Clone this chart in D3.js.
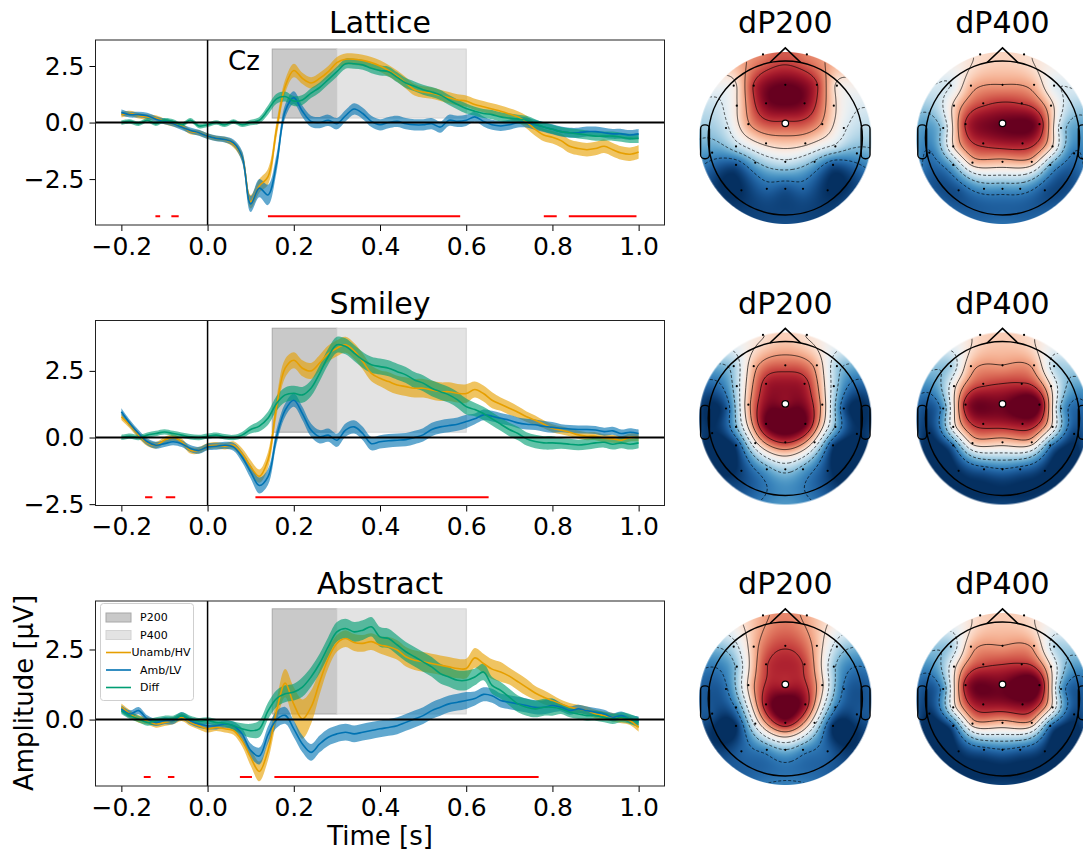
<!DOCTYPE html>
<html>
<head>
<meta charset="utf-8">
<script src="https://cdn.jsdelivr.net/npm/d3@7"></script>
<style>
	body { margin: 0; background: #fff; }
	svg { display: block; }
</style>
</head>
<body>
<div id="chart"></div>
<script>
// ---- ERP data (Cz), sampled every 20 ms ----
const times = [-0.2, -0.18, -0.16, -0.14, -0.12, -0.1, -0.08, -0.06, -0.04, -0.02, 0.0,
	0.02, 0.04, 0.06, 0.08, 0.1, 0.12, 0.14, 0.16, 0.18, 0.2,
	0.22, 0.24, 0.26, 0.28, 0.3, 0.32, 0.34, 0.36, 0.38, 0.4,
	0.42, 0.44, 0.46, 0.48, 0.5, 0.52, 0.54, 0.56, 0.58, 0.6,
	0.62, 0.64, 0.66, 0.68, 0.7, 0.72, 0.74, 0.76, 0.78, 0.8,
	0.82, 0.84, 0.86, 0.88, 0.9, 0.92, 0.94, 0.96, 0.98, 1.0];

const conditions = ["Unamb/HV", "Amb/LV", "Diff"];
const stimuli = ["Lattice", "Smiley", "Abstract"];

const latticeUnamb = [0.35, 0.4, 0.3, 0.25, 0.2, 0.05, -0.05, -0.15, -0.4, -0.45, -0.6,
	-0.7, -0.75, -0.95, -1.5, -3.5, -2.8, -2.4, -0.3, 1.6, 2.3,
	1.95, 1.75, 1.95, 2.25, 2.65, 2.8, 2.8, 2.75, 2.65, 2.5,
	2.3, 2.05, 1.75, 1.45, 1.35, 1.3, 1.2, 1.1, 1.0, 0.95,
	0.8, 0.7, 0.6, 0.5, 0.38, 0.25, 0.02, -0.3, -0.55, -0.65,
	-0.8, -1.05, -1.15, -1.2, -1.15, -1.05, -1.2, -1.35, -1.4, -1.3];
const latticeAmb = [0.45, 0.35, 0.35, 0.3, 0.15, 0.05, -0.05, -0.2, -0.35, -0.45, -0.6,
	-0.7, -0.75, -0.9, -1.5, -3.6, -2.9, -3.2, -1.8, 0.5, 1.1,
	0.5, 0.05, 0.0, 0.1, -0.05, 0.3, 0.6, 0.4, 0.05, -0.1,
	0.0, 0.05, -0.05, -0.1, -0.1, -0.05, -0.2, 0.1, 0.05, 0.1,
	0.25, 0.05, -0.1, -0.15, -0.1, 0.0, 0.0, -0.1, -0.2, -0.3,
	-0.4, -0.45, -0.45, -0.4, -0.4, -0.45, -0.5, -0.5, -0.55, -0.5];
const latticeDiff = [0.0, 0.05, -0.05, 0.1, -0.05, 0.1, 0.05, -0.1, 0.1, -0.15, -0.1,
	0.0, -0.1, 0.05, -0.1, 0.0, 0.1, 0.55, 1.05, 1.15, 0.95,
	1.0, 1.3, 1.55, 1.9, 2.25, 2.6, 2.6, 2.55, 2.4, 2.3,
	2.25, 2.0, 1.75, 1.6, 1.45, 1.35, 1.22, 1.0, 0.8, 0.62,
	0.5, 0.4, 0.35, 0.25, 0.2, 0.15, 0.1, -0.05, -0.2, -0.3,
	-0.4, -0.45, -0.5, -0.55, -0.6, -0.6, -0.6, -0.65, -0.7, -0.7];

const smileyUnamb = [0.78, 0.46, 0.09, -0.2, -0.29, -0.1, 0.0, -0.16, -0.48, -0.48, -0.33,
	-0.29, -0.33, -0.29, -0.6, -1.1, -1.45, -0.85, 1.16, 2.6, 2.9,
	2.6, 2.5, 2.8, 3.15, 3.35, 3.48, 3.25, 2.85, 2.41, 2.22,
	2.1, 1.97, 1.91, 1.85, 1.85, 1.78, 1.72, 1.72, 1.66, 1.65,
	1.8, 1.65, 1.4, 1.25, 1.1, 0.95, 0.78, 0.65, 0.5, 0.35,
	0.27, 0.2, 0.1, 0.05, 0.05, -0.03, -0.05, -0.1, 0.0, 0.0];
const smileyAmb = [0.97, 0.53, 0.15, -0.16, -0.29, -0.23, -0.16, -0.23, -0.41, -0.48, -0.35,
	-0.33, -0.29, -0.35, -0.73, -1.29, -1.8, -1.48, 0.03, 1.03, 1.4,
	0.9, 0.28, 0.03, 0.09, -0.1, 0.28, 0.4, 0.15, -0.23, -0.16,
	-0.12, -0.1, -0.08, 0.0, 0.1, 0.3, 0.4, 0.45, 0.5, 0.6,
	0.7, 0.85, 0.8, 0.72, 0.65, 0.55, 0.5, 0.48, 0.42, 0.38,
	0.35, 0.32, 0.3, 0.3, 0.28, 0.22, 0.25, 0.15, 0.2, 0.15];
const smileyDiff = [0.0, 0.05, 0.0, 0.09, 0.15, 0.21, 0.15, 0.09, 0.03, 0.0, 0.05,
	0.09, 0.03, 0.0, 0.09, 0.3, 0.43, 0.72, 1.28, 1.6, 1.66,
	1.6, 1.85, 2.41, 3.04, 3.48, 3.42, 3.17, 2.91, 2.73, 2.66,
	2.6, 2.47, 2.35, 2.16, 2.04, 1.85, 1.72, 1.6, 1.41, 1.16,
	1.05, 0.9, 0.7, 0.5, 0.3, 0.15, -0.05, -0.15, -0.2, -0.2,
	-0.22, -0.25, -0.28, -0.25, -0.2, -0.18, -0.25, -0.2, -0.25, -0.2];

const abstractUnamb = [0.44, 0.2, 0.02, -0.04, -0.16, -0.1, -0.04, 0.08, -0.1, -0.22, -0.33,
	-0.28, -0.33, -0.39, -0.75, -1.35, -1.85, -1.11, 0.3, 1.3, 0.55,
	0.02, 0.44, 1.34, 2.18, 2.72, 2.89, 2.75, 2.72, 2.78, 2.66,
	2.6, 2.48, 2.24, 2.12, 2.06, 2.0, 1.94, 1.88, 1.82, 1.82,
	2.2, 2.0, 1.8, 1.7, 1.55, 1.35, 1.15, 0.95, 0.8, 0.68,
	0.56, 0.44, 0.38, 0.32, 0.2, 0.14, 0.08, 0.02, -0.04, -0.28];
const abstractAmb = [0.38, 0.2, 0.32, 0.02, -0.1, -0.04, -0.04, 0.14, -0.04, -0.16, -0.22,
	-0.22, -0.16, -0.22, -0.51, -1.1, -1.3, -0.55, 0.0, 0.15, -0.33,
	-0.87, -1.17, -0.87, -0.63, -0.51, -0.45, -0.51, -0.45, -0.39, -0.33,
	-0.28, -0.22, -0.1, 0.02, 0.14, 0.32, 0.44, 0.56, 0.62, 0.68,
	0.75, 0.9, 0.85, 0.68, 0.62, 0.56, 0.5, 0.44, 0.44, 0.5,
	0.44, 0.32, 0.38, 0.32, 0.26, 0.2, 0.08, 0.14, 0.02, -0.04];
const abstractDiff = [0.32, 0.14, 0.02, -0.1, -0.04, 0.02, 0.02, 0.14, 0.02, -0.06, -0.04,
	-0.1, -0.13, -0.22, -0.33, -0.4, -0.33, 0.3, 0.75, 0.92, 0.98,
	1.16, 1.52, 2.0, 2.6, 3.13, 3.25, 3.13, 3.19, 3.31, 2.95,
	2.89, 2.66, 2.42, 2.24, 2.06, 1.88, 1.64, 1.52, 1.4, 1.4,
	1.52, 1.7, 1.22, 1.04, 0.8, 0.56, 0.44, 0.38, 0.44, 0.44,
	0.38, 0.26, 0.2, 0.14, 0.14, 0.08, 0.02, 0.08, 0.02, -0.1];

// half widths of the shaded bands
const latticeUnambSe = [0.12, 0.12, 0.12, 0.12, 0.12, 0.12, 0.12, 0.12, 0.12, 0.12, 0.12,
	0.12, 0.12, 0.15, 0.2, 0.3, 0.3, 0.35, 0.35, 0.3, 0.3,
	0.25, 0.25, 0.25, 0.25, 0.25, 0.25, 0.25, 0.25, 0.25, 0.25,
	0.25, 0.25, 0.25, 0.25, 0.25, 0.25, 0.25, 0.25, 0.25, 0.25,
	0.25, 0.25, 0.25, 0.25, 0.25, 0.25, 0.28, 0.28, 0.28, 0.28,
	0.3, 0.3, 0.3, 0.3, 0.3, 0.3, 0.3, 0.3, 0.3, 0.3];
const latticeAmbSe = [0.13, 0.13, 0.13, 0.13, 0.13, 0.13, 0.13, 0.13, 0.13, 0.13, 0.13,
	0.13, 0.13, 0.15, 0.25, 0.35, 0.4, 0.45, 0.4, 0.3, 0.28,
	0.25, 0.25, 0.25, 0.25, 0.25, 0.25, 0.25, 0.25, 0.25, 0.25,
	0.25, 0.25, 0.25, 0.25, 0.25, 0.25, 0.25, 0.25, 0.25, 0.25,
	0.22, 0.22, 0.22, 0.22, 0.22, 0.22, 0.22, 0.22, 0.22, 0.22,
	0.22, 0.22, 0.22, 0.22, 0.22, 0.22, 0.22, 0.22, 0.22, 0.22];
const latticeDiffSe = [0.1, 0.1, 0.1, 0.1, 0.1, 0.1, 0.1, 0.1, 0.1, 0.1, 0.1,
	0.1, 0.1, 0.1, 0.1, 0.12, 0.15, 0.2, 0.22, 0.22, 0.22,
	0.22, 0.22, 0.22, 0.22, 0.22, 0.22, 0.22, 0.22, 0.22, 0.22,
	0.22, 0.22, 0.22, 0.22, 0.22, 0.22, 0.22, 0.22, 0.22, 0.22,
	0.2, 0.2, 0.2, 0.2, 0.2, 0.2, 0.2, 0.2, 0.2, 0.2,
	0.2, 0.2, 0.2, 0.2, 0.2, 0.2, 0.2, 0.2, 0.2, 0.2];
const smileyUnambSe = [0.12, 0.12, 0.12, 0.12, 0.12, 0.12, 0.12, 0.12, 0.12, 0.12, 0.12,
	0.12, 0.12, 0.15, 0.2, 0.25, 0.25, 0.3, 0.35, 0.35, 0.3,
	0.3, 0.3, 0.3, 0.3, 0.3, 0.3, 0.3, 0.3, 0.3, 0.3,
	0.35, 0.35, 0.35, 0.35, 0.35, 0.35, 0.35, 0.35, 0.35, 0.35,
	0.3, 0.3, 0.3, 0.25, 0.25, 0.22, 0.2, 0.18, 0.15, 0.15,
	0.15, 0.15, 0.15, 0.15, 0.15, 0.15, 0.15, 0.15, 0.15, 0.15];
const smileyAmbSe = [0.13, 0.13, 0.13, 0.13, 0.13, 0.13, 0.13, 0.13, 0.13, 0.13, 0.13,
	0.13, 0.13, 0.15, 0.2, 0.25, 0.3, 0.3, 0.28, 0.25, 0.25,
	0.25, 0.25, 0.25, 0.25, 0.25, 0.25, 0.25, 0.25, 0.25, 0.25,
	0.25, 0.25, 0.25, 0.25, 0.25, 0.25, 0.25, 0.25, 0.25, 0.25,
	0.2, 0.2, 0.2, 0.2, 0.2, 0.2, 0.2, 0.2, 0.2, 0.2,
	0.15, 0.15, 0.15, 0.15, 0.15, 0.15, 0.15, 0.15, 0.15, 0.15];
const smileyDiffSe = [0.1, 0.1, 0.1, 0.1, 0.1, 0.1, 0.1, 0.1, 0.1, 0.1, 0.1,
	0.1, 0.1, 0.1, 0.12, 0.15, 0.2, 0.25, 0.28, 0.28, 0.28,
	0.3, 0.3, 0.3, 0.3, 0.3, 0.3, 0.3, 0.3, 0.3, 0.3,
	0.3, 0.3, 0.3, 0.3, 0.3, 0.3, 0.3, 0.3, 0.3, 0.3,
	0.25, 0.25, 0.25, 0.25, 0.25, 0.25, 0.25, 0.25, 0.25, 0.25,
	0.2, 0.2, 0.2, 0.2, 0.2, 0.2, 0.2, 0.2, 0.2, 0.2];
const abstractUnambSe = [0.13, 0.13, 0.13, 0.13, 0.13, 0.13, 0.13, 0.13, 0.13, 0.13, 0.13,
	0.13, 0.13, 0.15, 0.2, 0.3, 0.35, 0.35, 0.4, 0.5, 0.6,
	0.7, 0.6, 0.45, 0.35, 0.3, 0.3, 0.3, 0.3, 0.3, 0.3,
	0.35, 0.35, 0.35, 0.35, 0.35, 0.35, 0.35, 0.35, 0.35, 0.35,
	0.35, 0.35, 0.35, 0.35, 0.3, 0.3, 0.3, 0.25, 0.25, 0.2,
	0.15, 0.15, 0.15, 0.15, 0.15, 0.15, 0.15, 0.15, 0.15, 0.15];
const abstractAmbSe = [0.13, 0.13, 0.13, 0.13, 0.13, 0.13, 0.13, 0.13, 0.13, 0.13, 0.13,
	0.13, 0.13, 0.15, 0.2, 0.25, 0.3, 0.3, 0.3, 0.3, 0.3,
	0.3, 0.3, 0.3, 0.3, 0.3, 0.3, 0.3, 0.3, 0.3, 0.3,
	0.3, 0.3, 0.3, 0.3, 0.3, 0.3, 0.3, 0.3, 0.3, 0.3,
	0.25, 0.25, 0.25, 0.25, 0.25, 0.25, 0.25, 0.25, 0.25, 0.25,
	0.15, 0.15, 0.15, 0.15, 0.15, 0.15, 0.15, 0.15, 0.15, 0.15];
const abstractDiffSe = [0.12, 0.12, 0.12, 0.12, 0.12, 0.12, 0.12, 0.12, 0.12, 0.12, 0.12,
	0.12, 0.12, 0.15, 0.2, 0.25, 0.3, 0.3, 0.3, 0.3, 0.3,
	0.35, 0.35, 0.35, 0.35, 0.35, 0.35, 0.35, 0.35, 0.35, 0.35,
	0.35, 0.35, 0.35, 0.35, 0.35, 0.35, 0.35, 0.35, 0.35, 0.35,
	0.3, 0.3, 0.3, 0.3, 0.3, 0.3, 0.3, 0.3, 0.3, 0.3,
	0.18, 0.18, 0.18, 0.18, 0.18, 0.18, 0.18, 0.18, 0.18, 0.18];

// axis limits, analysis windows, significant clusters
const yLimits = [[-4.53, 3.65], [-2.55, 4.39], [-2.37, 4.23]];
const xTicks = [-0.2, 0.0, 0.2, 0.4, 0.6, 0.8, 1.0];
const yTicks = [-2.5, 0.0, 2.5];
const erpWindows = [{ name: "P200", start: 0.15, end: 0.3 }, { name: "P400", start: 0.3, end: 0.6 }];
const windowBottom = 0.2;
const windowTop = [3.25, 4.1, 3.95];
const sigLevel = [-4.14, -2.24, -2.05];
const latticeSig = [[-0.121, -0.11], [-0.084, -0.067], [0.14, 0.586], [0.78, 0.81], [0.838, 0.995]];
const smileySig = [[-0.145, -0.128], [-0.097, -0.075], [0.111, 0.652]];
const abstractSig = [[-0.148, -0.132], [-0.092, -0.077], [0.075, 0.103], [0.155, 0.768]];

// ---- topography data: montage (head radius = 1, y to the nose) and dP values in µV ----
const channels = ["Fp1", "Fp2", "F7", "F3", "Fz", "F4", "F8", "FC5", "FC1", "FC2", "FC6",
	"T7", "C3", "Cz", "C4", "T8", "TP9", "CP5", "CP1", "CP2", "CP6", "TP10",
	"P7", "P3", "Pz", "P4", "P8", "PO9", "O1", "Oz", "O2", "PO10"];
const channelX = [-0.29, 0.28, -0.67, -0.41, 0.0, 0.41, 0.67, -0.63, -0.25, 0.25, 0.63,
	-0.77, -0.48, 0.0, 0.48, 0.76, -0.95, -0.64, -0.25, 0.26, 0.65, 0.93,
	-0.64, -0.39, 0.0, 0.38, 0.62, -0.57, -0.24, 0.0, 0.23, 0.55];
const channelY = [1.085, 1.085, 0.68, 0.68, 0.69, 0.69, 0.68, 0.42, 0.45, 0.45, 0.42,
	0.13, 0.18, 0.19, 0.18, 0.13, -0.19, -0.11, -0.07, -0.07, -0.11, -0.2,
	-0.35, -0.32, -0.31, -0.31, -0.35, -0.68, -0.66, -0.66, -0.66, -0.68];

const topoTitles = ["dP200", "dP400"];
const latticeP200 = [1.5, 1.5, 0.2, 2.2, 3.0, 2.2, 0.3, 0.4, 2.8, 2.8, 0.6,
	-0.6, 1.2, 2.0, 1.2, -0.3, -1.8, -0.8, 0.6, 0.6, -0.6, -1.6,
	-2.6, -1.4, -0.6, -1.4, -2.6, -3.0, -2.4, -2.6, -2.4, -3.0];
const latticeP400 = [0.5, 0.5, -0.4, 1.0, 1.3, 1.0, -0.3, 0.6, 2.0, 2.1, 0.7,
	-1.0, 2.2, 3.0, 2.6, -0.8, -2.2, 0.4, 2.3, 2.5, 0.4, -2.2,
	-1.4, 0.8, 1.0, 0.9, -1.4, -2.6, -1.8, -1.8, -1.8, -2.6];
const smileyP200 = [0.4, 0.4, -1.0, 1.0, 1.8, 1.0, -1.0, -0.8, 2.4, 2.4, -0.8,
	-2.6, 1.0, 2.7, 1.0, -2.6, -3.0, -1.4, 3.0, 3.0, -1.4, -3.0,
	-2.8, 0.2, 2.2, 0.2, -2.8, -2.8, -1.6, -1.0, -1.6, -2.8];
const smileyP400 = [0.6, 0.6, -1.0, 1.0, 1.3, 1.1, -0.8, 0.2, 2.0, 2.2, 0.4,
	-1.8, 2.4, 2.9, 3.0, -1.4, -3.0, 0.0, 2.4, 2.6, 0.2, -2.8,
	-2.2, 0.6, 0.8, 0.8, -2.0, -3.0, -2.4, -2.2, -2.4, -3.0];
const abstractP200 = [1.2, 1.2, -0.8, 1.0, 2.2, 1.0, -0.8, -1.2, 2.2, 2.2, -1.2,
	-2.4, 0.6, 2.5, 0.6, -2.4, -2.8, -2.2, 2.7, 2.7, -2.2, -2.8,
	-3.2, -0.2, 2.8, -0.2, -3.2, -2.6, -2.0, -1.4, -2.0, -2.6];
const abstractP400 = [0.6, 0.6, -1.0, 1.0, 1.3, 1.1, -0.8, 0.2, 2.0, 2.2, 0.4,
	-1.8, 2.4, 2.9, 3.0, -1.6, -3.0, 0.0, 2.6, 2.8, 0.2, -2.8,
	-2.4, 0.8, 1.0, 1.0, -2.2, -3.0, -2.4, -2.2, -2.4, -3.0];

// ---- layout ----
const lineColors = ["#E69F00", "#0072B2", "#009E73"];
const rowStep = 280.5;
const plotTop = 40;
const plotHeight = 185;

const panels = [
	{ series: [latticeUnamb, latticeAmb, latticeDiff], errors: [latticeUnambSe, latticeAmbSe, latticeDiffSe], sig: latticeSig, topo: [latticeP200, latticeP400] },
	{ series: [smileyUnamb, smileyAmb, smileyDiff], errors: [smileyUnambSe, smileyAmbSe, smileyDiffSe], sig: smileySig, topo: [smileyP200, smileyP400] },
	{ series: [abstractUnamb, abstractAmb, abstractDiff], errors: [abstractUnambSe, abstractAmbSe, abstractDiffSe], sig: abstractSig, topo: [abstractP200, abstractP400] }
];

const svg = d3.select("#chart")
	.append("svg")
	.attr("width", 1083)
	.attr("height", 852)
	.style("font-family", "'DejaVu Sans', sans-serif");

const defs = svg.append("defs");

const x = d3.scaleLinear()
	.domain([-0.26, 1.06])
	.range([95.5, 664.5]);

const fmt = d3.format(".1f");

panels.forEach((panel, k) => {
	const top = plotTop + k * rowStep;
	const bottom = top + plotHeight;
	const y = d3.scaleLinear().domain(yLimits[k]).range([bottom, top]);
	const g = svg.append("g");

	defs.append("clipPath")
		.attr("id", "plotclip" + k)
		.append("rect")
		.attr("x", x.range()[0])
		.attr("y", top)
		.attr("width", x.range()[1] - x.range()[0])
		.attr("height", plotHeight);

	const plot = g.append("g").attr("clip-path", `url(#plotclip${k})`);

	plot.selectAll("rect.window")
		.data(erpWindows)
		.enter()
		.append("rect")
		.attr("class", "window")
		.attr("x", (d) => x(d.start))
		.attr("width", (d) => x(d.end) - x(d.start))
		.attr("y", y(windowTop[k]))
		.attr("height", y(windowBottom) - y(windowTop[k]))
		.attr("fill", (d, i) => i ? "#e3e3e3" : "#c9c9c9")
		.attr("stroke", (d, i) => i ? "#d3d3d3" : "#a8a8a8")
		.attr("stroke-width", 1);

	const rows = panel.series.map((s, c) =>
		times.map((t, i) => ({ t: t, v: s[i], e: panel.errors[c][i] })));

	const band = d3.area()
		.x((d) => x(d.t))
		.y0((d) => y(d.v - d.e))
		.y1((d) => y(d.v + d.e))
		.curve(d3.curveCatmullRom);

	const line = d3.line()
		.x((d) => x(d.t))
		.y((d) => y(d.v))
		.curve(d3.curveCatmullRom);

	plot.selectAll("path.band")
		.data(rows)
		.enter()
		.append("path")
		.attr("class", "band")
		.attr("d", band)
		.attr("fill", (d, i) => lineColors[i])
		.attr("fill-opacity", 0.62);

	plot.selectAll("path.mean")
		.data(rows)
		.enter()
		.append("path")
		.attr("class", "mean")
		.attr("d", line)
		.attr("fill", "none")
		.attr("stroke", (d, i) => lineColors[i])
		.attr("stroke-width", 1.6);

	plot.append("line")
		.attr("x1", x.range()[0])
		.attr("x2", x.range()[1])
		.attr("y1", y(0))
		.attr("y2", y(0))
		.attr("stroke", "#000")
		.attr("stroke-width", 2);

	plot.append("line")
		.attr("x1", x(0))
		.attr("x2", x(0))
		.attr("y1", top)
		.attr("y2", bottom)
		.attr("stroke", "#000")
		.attr("stroke-width", 1.5);

	plot.selectAll("line.sig")
		.data(panel.sig)
		.enter()
		.append("line")
		.attr("class", "sig")
		.attr("x1", (d) => x(d[0]))
		.attr("x2", (d) => x(d[1]))
		.attr("y1", y(sigLevel[k]))
		.attr("y2", y(sigLevel[k]))
		.attr("stroke", "#ff0000")
		.attr("stroke-width", 2);

	const xAxis = g.append("g")
		.attr("transform", `translate(0,${bottom})`)
		.call(d3.axisBottom(x).tickValues(xTicks).tickFormat(fmt).tickSize(6).tickPadding(6));
	const yAxis = g.append("g")
		.attr("transform", `translate(${x.range()[0]},0)`)
		.call(d3.axisLeft(y)
			.tickValues(yTicks.filter((v) => v >= yLimits[k][0] && v <= yLimits[k][1]))
			.tickFormat(fmt).tickSize(6).tickPadding(5));
	[xAxis, yAxis].forEach((a) => {
		a.attr("font-size", null).attr("font-family", null);
		a.select(".domain").remove();
		a.selectAll("line").attr("stroke", "#000");
		a.selectAll("text").attr("font-size", 25).attr("fill", "#000");
	});

	g.append("rect")
		.attr("x", x.range()[0])
		.attr("y", top)
		.attr("width", x.range()[1] - x.range()[0])
		.attr("height", plotHeight)
		.attr("fill", "none")
		.attr("stroke", "#222")
		.attr("stroke-width", 1);

	svg.append("text")
		.attr("x", (x.range()[0] + x.range()[1]) / 2)
		.attr("y", 33 + k * rowStep)
		.attr("text-anchor", "middle")
		.attr("font-size", 30)
		.text(stimuli[k]);
});

// channel label on the first panel
svg.append("text")
	.attr("x", 228)
	.attr("y", 70)
	.attr("font-size", 26)
	.text("Cz");

// legend in the last panel
const legendItems = [
	{ label: "P200", kind: "patch", fill: "#c9c9c9", stroke: "#a8a8a8", dx: 140 },
	{ label: "P400", kind: "patch", fill: "#e3e3e3", stroke: "#d3d3d3", dx: 140 },
	{ label: conditions[0], kind: "line", stroke: lineColors[0], dx: 131.5 },
	{ label: conditions[1], kind: "line", stroke: lineColors[1], dx: 140 },
	{ label: conditions[2], kind: "line", stroke: lineColors[2], dx: 140 }
];
const legend = svg.append("g");
legend.append("rect")
	.attr("x", 100.5)
	.attr("y", 603.5)
	.attr("width", 93)
	.attr("height", 97)
	.attr("rx", 3)
	.attr("fill", "#fff")
	.attr("fill-opacity", 0.85)
	.attr("stroke", "#cfcfcf");
legendItems.forEach((item, i) => {
	const ly = 617.5 + i * 17.5;
	if (item.kind === "patch") {
		legend.append("rect")
			.attr("x", 106)
			.attr("y", ly - 4.5)
			.attr("width", 25)
			.attr("height", 9)
			.attr("fill", item.fill)
			.attr("stroke", item.stroke);
	} else {
		legend.append("line")
			.attr("x1", 106)
			.attr("x2", 131)
			.attr("y1", ly)
			.attr("y2", ly)
			.attr("stroke", item.stroke)
			.attr("stroke-width", 1.6);
	}
	legend.append("text")
		.attr("x", item.dx)
		.attr("y", ly)
		.attr("dy", "0.36em")
		.attr("font-size", 11)
		.text(item.label);
});

svg.append("text")
	.attr("transform", "translate(33,693) rotate(-90)")
	.attr("text-anchor", "middle")
	.attr("font-size", 26)
	.text("Amplitude [µV]");

svg.append("text")
	.attr("x", (x.range()[0] + x.range()[1]) / 2)
	.attr("y", 845)
	.attr("text-anchor", "middle")
	.attr("font-size", 26)
	.text("Time [s]");

// ---- topomaps: thin-plate spline over the montage, drawn as image + d3.contours ----
const headR = 77;
const discR = 86;
const gridN = 200;
const topoCenters = [785.3, 1002.5];

function kernel(r) {
	return r > 0 ? r * r * Math.log(r) : 0;
}

function solve(A, b) {
	const n = b.length;
	const M = A.map((row, i) => row.concat([b[i]]));
	for (let c = 0; c < n; c++) {
		let p = c;
		for (let r = c + 1; r < n; r++) if (Math.abs(M[r][c]) > Math.abs(M[p][c])) p = r;
		const tmp = M[c]; M[c] = M[p]; M[p] = tmp;
		for (let r = c + 1; r < n; r++) {
			const f = M[r][c] / M[c][c];
			if (f === 0) continue;
			for (let q = c; q <= n; q++) M[r][q] -= f * M[c][q];
		}
	}
	const out = new Array(n).fill(0);
	for (let r = n - 1; r >= 0; r--) {
		let s = M[r][n];
		for (let q = r + 1; q < n; q++) s -= M[r][q] * out[q];
		out[r] = s / M[r][r];
	}
	return out;
}

function fitSurface(values) {
	const pts = channelX.map((cx, i) => ({ x: cx, y: channelY[i], v: values[i] }));
	// border points take the mean of their nearest channels (like MNE's border='mean')
	const border = d3.range(24).map((j) => {
		const a = (2 * Math.PI * j) / 24;
		const bx = 1.3 * Math.cos(a);
		const by = 1.3 * Math.sin(a);
		const near = pts.slice()
			.sort((p, q) => Math.hypot(p.x - bx, p.y - by) - Math.hypot(q.x - bx, q.y - by))
			.slice(0, 3);
		return { x: bx, y: by, v: d3.mean(near, (p) => p.v) };
	});
	const all = pts.concat(border);
	const n = all.length;
	const A = [];
	const b = [];
	all.forEach((p) => {
		A.push(all.map((q) => kernel(Math.hypot(p.x - q.x, p.y - q.y))).concat([1, p.x, p.y]));
		b.push(p.v);
	});
	A.push(all.map(() => 1).concat([0, 0, 0]));
	A.push(all.map((p) => p.x).concat([0, 0, 0]));
	A.push(all.map((p) => p.y).concat([0, 0, 0]));
	b.push(0, 0, 0);
	const w = solve(A, b);
	return (px, py) => {
		let s = w[n] + w[n + 1] * px + w[n + 2] * py;
		for (let i = 0; i < n; i++) s += w[i] * kernel(Math.hypot(px - all[i].x, py - all[i].y));
		return s;
	};
}

function drawTopo(cx, cy, values, id) {
	const vmax = d3.max(values, (v) => Math.abs(v));
	const color = d3.scaleSequential(d3.interpolateRdBu).domain([vmax, -vmax]).clamp(true);
	const surface = fitSurface(values);
	const half = gridN / 2;
	const grid = new Float64Array(gridN * gridN);
	for (let j = 0; j < gridN; j++) {
		for (let i = 0; i < gridN; i++) {
			grid[j * gridN + i] = surface((i + 0.5 - half) / headR, (half - j - 0.5) / headR);
		}
	}

	const canvas = document.createElement("canvas");
	canvas.width = gridN;
	canvas.height = gridN;
	const ctx = canvas.getContext("2d");
	const img = ctx.createImageData(gridN, gridN);
	for (let j = 0; j < gridN; j++) {
		for (let i = 0; i < gridN; i++) {
			const idx = j * gridN + i;
			const c = d3.rgb(color(grid[idx]));
			const r = Math.hypot(i + 0.5 - half, j + 0.5 - half);
			const alpha = Math.max(0, Math.min(1, discR - r + 0.5));
			img.data[idx * 4] = c.r;
			img.data[idx * 4 + 1] = c.g;
			img.data[idx * 4 + 2] = c.b;
			img.data[idx * 4 + 3] = Math.round(alpha * 255);
		}
	}
	ctx.putImageData(img, 0, 0);

	const g = svg.append("g");
	g.append("image")
		.attr("href", canvas.toDataURL())
		.attr("x", cx - half)
		.attr("y", cy - half)
		.attr("width", gridN)
		.attr("height", gridN);

	defs.append("clipPath")
		.attr("id", id)
		.append("circle")
		.attr("cx", cx)
		.attr("cy", cy)
		.attr("r", discR - 0.5);

	const levels = d3.range(1, 7).map((i) => -vmax + (i * 2 * vmax) / 7);
	const contours = d3.contours().size([gridN, gridN]).thresholds(levels)(grid);
	const path = d3.geoPath(d3.geoIdentity().translate([cx - half, cy - half]));
	g.append("g")
		.attr("clip-path", `url(#${id})`)
		.selectAll("path")
		.data(contours)
		.enter()
		.append("path")
		.attr("d", path)
		.attr("fill", "none")
		.attr("stroke", "#000")
		.attr("stroke-opacity", 0.85)
		.attr("stroke-width", 0.8)
		.attr("stroke-dasharray", (d) => d.value < 0 ? "3,2" : null);

	const hx = (v) => cx + v * headR;
	const hy = (v) => cy - v * headR;

	g.append("circle")
		.attr("cx", cx)
		.attr("cy", cy)
		.attr("r", headR)
		.attr("fill", "none")
		.attr("stroke", "#000")
		.attr("stroke-width", 1.6);

	g.append("path")
		.attr("d", `M${hx(-0.2)},${hy(0.98)}L${hx(0)},${hy(1.17)}L${hx(0.2)},${hy(0.98)}`)
		.attr("fill", "none")
		.attr("stroke", "#000")
		.attr("stroke-width", 1.6);

	[-1, 1].forEach((side) => {
		const x0 = side < 0 ? hx(-1.1) : hx(0.985);
		g.append("rect")
			.attr("x", x0)
			.attr("y", hy(0.17))
			.attr("width", 0.115 * headR)
			.attr("height", 0.44 * headR)
			.attr("rx", 4)
			.attr("fill", "none")
			.attr("stroke", "#000")
			.attr("stroke-width", 1.4);
	});

	g.selectAll("circle.sensor")
		.data(channels)
		.enter()
		.append("circle")
		.attr("class", "sensor")
		.attr("cx", (d, i) => hx(channelX[i]))
		.attr("cy", (d, i) => hy(channelY[i]))
		.attr("r", (d) => d === "Cz" ? 3.3 : 1.1)
		.attr("fill", (d) => d === "Cz" ? "#fff" : "#000")
		.attr("stroke", (d) => d === "Cz" ? "#000" : "none")
		.attr("stroke-width", 1.2);
}

panels.forEach((panel, k) => {
	panel.topo.forEach((values, c) => {
		const cx = topoCenters[c];
		const cy = 138 + k * rowStep;
		drawTopo(cx, cy, values, `topo${k}${c}`);
		svg.append("text")
			.attr("x", cx)
			.attr("y", 33 + k * rowStep)
			.attr("text-anchor", "middle")
			.attr("font-size", 30)
			.text(topoTitles[c]);
	});
});
</script>
</body>
</html>
